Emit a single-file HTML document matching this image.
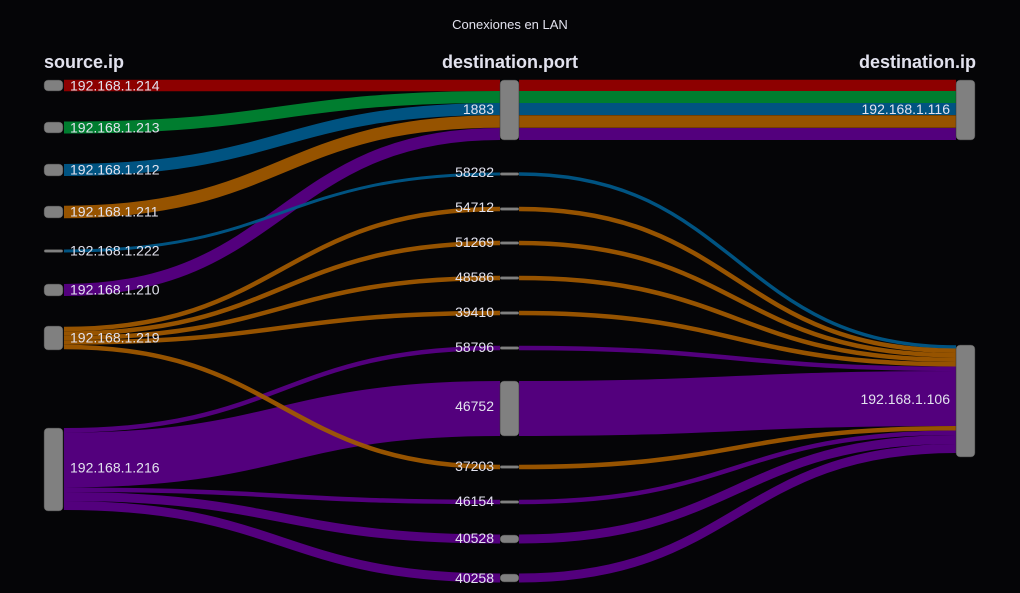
<!DOCTYPE html>
<html><head><meta charset="utf-8"><style>
html,body{margin:0;padding:0;background:#050507;}
svg{display:block;font-family:"Liberation Sans",Arial,sans-serif;}
.l{fill:none;opacity:0.92}
.n{fill:#808080;stroke:#333;stroke-width:0.5}
.t{fill:#e2e2ee;font-size:14px}
.h{fill:#e2e2ee;font-size:18px;font-weight:bold}
</style></head><body>
<svg width="1020" height="593" viewBox="0 0 1020 593">
<rect width="1020" height="593" fill="#050507"/>
<text x="510" y="29" text-anchor="middle" fill="#e2e2ee" font-size="13">Conexiones en LAN</text>
<text class="h" x="44" y="68">source.ip</text>
<text class="h" x="510" y="68" text-anchor="middle">destination.port</text>
<text class="h" x="976" y="68" text-anchor="end">destination.ip</text>

<!-- left links -->
<path class="l" stroke="#990000" stroke-width="11.5" d="M64,85.5 C282,85.5 282,85.5 500,85.5"/>
<path class="l" stroke="#008833" stroke-width="12" d="M64,127.5 C282,127.5 282,97 500,97"/>
<path class="l" stroke="#005a8c" stroke-width="12" d="M64,170 C282,170 282,109 500,109"/>
<path class="l" stroke="#a35a00" stroke-width="12.5" d="M64,212 C282,212 282,121.5 500,121.5"/>
<path class="l" stroke="#5a0088" stroke-width="12" d="M64,290 C282,290 282,134 500,134"/>
<path class="l" stroke="#005a8c" stroke-width="3" d="M64,251 C282,251 282,174 500,174"/>
<path class="l" stroke="#a35a00" stroke-width="4.5" d="M64,329 C282,329 282,209 500,209"/>
<path class="l" stroke="#a35a00" stroke-width="4.5" d="M64,333.5 C282,333.5 282,243 500,243"/>
<path class="l" stroke="#a35a00" stroke-width="4.5" d="M64,338 C282,338 282,278 500,278"/>
<path class="l" stroke="#a35a00" stroke-width="4.5" d="M64,342.5 C282,342.5 282,313 500,313"/>
<path class="l" stroke="#5a0088" stroke-width="4.5" d="M64,430.25 C282,430.25 282,348 500,348"/>
<path class="l" stroke="#5a0088" stroke-width="55" d="M64,460 C282,460 282,408.5 500,408.5"/>
<path class="l" stroke="#a35a00" stroke-width="4.5" opacity="0.8" d="M64,347 C282,347 282,467 500,467"/>
<path class="l" stroke="#5a0088" stroke-width="4.5" d="M64,489.75 C282,489.75 282,502 500,502"/>
<path class="l" stroke="#5a0088" stroke-width="9" d="M64,496.5 C282,496.5 282,539 500,539"/>
<path class="l" stroke="#5a0088" stroke-width="9" d="M64,505.5 C282,505.5 282,578 500,578"/>

<!-- right links -->
<path class="l" stroke="#990000" stroke-width="11.5" d="M519,85.5 L956,85.5"/>
<path class="l" stroke="#008833" stroke-width="12" d="M519,97 L956,97"/>
<path class="l" stroke="#005a8c" stroke-width="12" d="M519,109 L956,109"/>
<path class="l" stroke="#a35a00" stroke-width="12.5" d="M519,121.5 L956,121.5"/>
<path class="l" stroke="#5a0088" stroke-width="12" d="M519,134 L956,134"/>
<path class="l" stroke="#005a8c" stroke-width="3.5" d="M519,174 C737,174 737,347 956,347"/>
<path class="l" stroke="#a35a00" stroke-width="4.5" d="M519,209 C737,209 737,350.75 956,350.75"/>
<path class="l" stroke="#a35a00" stroke-width="4.5" d="M519,243 C737,243 737,355.25 956,355.25"/>
<path class="l" stroke="#a35a00" stroke-width="4.5" d="M519,278 C737,278 737,359.75 956,359.75"/>
<path class="l" stroke="#a35a00" stroke-width="4.5" d="M519,313 C737,313 737,364.25 956,364.25"/>
<path class="l" stroke="#5a0088" stroke-width="4.5" d="M519,348 C737,348 737,368.75 956,368.75"/>
<path class="l" stroke="#5a0088" stroke-width="55" d="M519,408.5 C737,408.5 737,398.5 956,398.5"/>
<path class="l" stroke="#a35a00" stroke-width="4.5" d="M519,467 C737,467 737,428.25 956,428.25"/>
<path class="l" stroke="#5a0088" stroke-width="4.5" d="M519,502 C737,502 737,432.75 956,432.75"/>
<path class="l" stroke="#5a0088" stroke-width="9" d="M519,539 C737,539 737,439.5 956,439.5"/>
<path class="l" stroke="#5a0088" stroke-width="9" d="M519,578 C737,578 737,448.5 956,448.5"/>

<!-- source nodes -->
<rect class="n" x="44" y="80" width="19" height="11" rx="4"/>
<rect class="n" x="44" y="122" width="19" height="11" rx="4"/>
<rect class="n" x="44" y="164" width="19" height="12" rx="4"/>
<rect class="n" x="44" y="206" width="19" height="12" rx="4"/>
<rect class="n" x="44" y="249.5" width="19" height="3" rx="1.5"/>
<rect class="n" x="44" y="284" width="19" height="12" rx="4"/>
<rect class="n" x="44" y="326" width="19" height="24" rx="4"/>
<rect class="n" x="44" y="428" width="19" height="83" rx="4"/>
<!-- middle nodes -->
<rect class="n" x="500" y="80" width="19" height="60" rx="4"/>
<rect class="n" x="500" y="172.5" width="19" height="3" rx="1.5"/>
<rect class="n" x="500" y="207.5" width="19" height="3" rx="1.5"/>
<rect class="n" x="500" y="241.5" width="19" height="3" rx="1.5"/>
<rect class="n" x="500" y="276.5" width="19" height="3" rx="1.5"/>
<rect class="n" x="500" y="311.5" width="19" height="3" rx="1.5"/>
<rect class="n" x="500" y="346.5" width="19" height="3" rx="1.5"/>
<rect class="n" x="500" y="381" width="19" height="55" rx="4"/>
<rect class="n" x="500" y="465.5" width="19" height="3" rx="1.5"/>
<rect class="n" x="500" y="500.5" width="19" height="3" rx="1.5"/>
<rect class="n" x="500" y="535" width="19" height="8" rx="4"/>
<rect class="n" x="500" y="574" width="19" height="8" rx="4"/>
<!-- right nodes -->
<rect class="n" x="956" y="80" width="19" height="60" rx="4"/>
<rect class="n" x="956" y="345" width="19" height="112" rx="4"/>

<!-- labels -->
<text class="t" x="70" y="90.5">192.168.1.214</text>
<text class="t" x="70" y="132.5">192.168.1.213</text>
<text class="t" x="70" y="174.5">192.168.1.212</text>
<text class="t" x="70" y="216.5">192.168.1.211</text>
<text class="t" x="70" y="255.5">192.168.1.222</text>
<text class="t" x="70" y="294.5">192.168.1.210</text>
<text class="t" x="70" y="342.5">192.168.1.219</text>
<text class="t" x="70" y="472.5">192.168.1.216</text>
<text class="t" x="494" y="114" text-anchor="end">1883</text>
<text class="t" x="494" y="177" text-anchor="end">58282</text>
<text class="t" x="494" y="212" text-anchor="end">54712</text>
<text class="t" x="494" y="247" text-anchor="end">51269</text>
<text class="t" x="494" y="282" text-anchor="end">48586</text>
<text class="t" x="494" y="317" text-anchor="end">39410</text>
<text class="t" x="494" y="352" text-anchor="end">58796</text>
<text class="t" x="494" y="411" text-anchor="end">46752</text>
<text class="t" x="494" y="471" text-anchor="end">37203</text>
<text class="t" x="494" y="506" text-anchor="end">46154</text>
<text class="t" x="494" y="543" text-anchor="end">40528</text>
<text class="t" x="494" y="583" text-anchor="end">40258</text>
<text class="t" x="950" y="114" text-anchor="end">192.168.1.116</text>
<text class="t" x="950" y="404" text-anchor="end">192.168.1.106</text>
</svg>
</body></html>
